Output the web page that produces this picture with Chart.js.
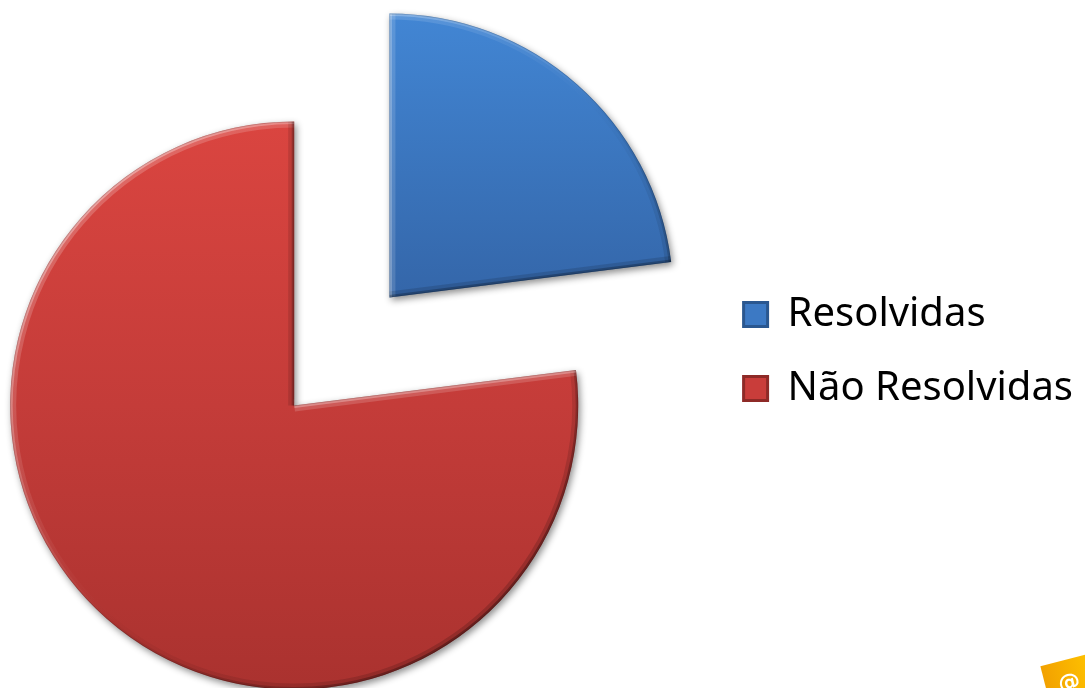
<!DOCTYPE html>
<html lang="pt">
<head>
<meta charset="utf-8">
<title>Resolvidas x Não Resolvidas</title>
<script src="https://cdn.jsdelivr.net/npm/chart.js@4/dist/chart.umd.min.js"></script>
<style>
  html, body { margin: 0; padding: 0; background: #fff; overflow: hidden; }
  #wrap { position: relative; width: 1085px; height: 688px; overflow: hidden; }
  #pizza { position: absolute; left: -26px; top: 0; }
</style>
</head>
<body>
<div id="wrap"><canvas id="pizza" width="1111" height="688"></canvas></div>
<script>
// Gráfico de Pizza - Resolvidas x Não Resolvidas
const categorias = ['Resolvidas', 'Não Resolvidas'];
const valores = [23, 77];

// cores: topo / meio / base de cada fatia, e as da legenda
const coresTopo = ['#4286D4', '#DA4540'];
const coresMeio = ['#3466A9', '#C43C39'];
const coresBase = ['#2D5890', '#AA322F'];
const coresLegenda = ['#3C79C4', '#C93D3A'];
const bordasLegenda = ['#2A5790', '#8E2A27'];

const RAIO = 284;
const AFASTAMENTO = 72;

// luz vindo de cima/esquerda: borda clara ou escura conforme a normal
function tomChanfro(nx, ny, forca) {
    const d = (-nx - ny) * Math.SQRT1_2;
    return d >= 0
        ? 'rgba(255,255,255,' + (0.36 * d * forca).toFixed(3) + ')'
        : 'rgba(0,0,0,' + (0.30 * -d * forca).toFixed(3) + ')';
}

function chanfro(ctx, arc) {
    const { x, y, outerRadius: r, startAngle: a0, endAngle: a1 } = arc;
    ctx.save();
    ctx.beginPath();
    ctx.moveTo(x, y);
    ctx.arc(x, y, r, a0, a1);
    ctx.closePath();
    ctx.clip();
    ctx.lineCap = 'butt';
    [[12, 0.55], [5, 1]].forEach(([largura, forca]) => {
        ctx.lineWidth = largura;
        // borda curva: gradiente cônico em torno do centro
        const cone = ctx.createConicGradient(0, x, y);
        for (let k = 0; k <= 36; k++) {
            const a = k / 36 * Math.PI * 2;
            cone.addColorStop(k / 36, tomChanfro(Math.cos(a), Math.sin(a), forca));
        }
        ctx.beginPath();
        ctx.arc(x, y, r, a0, a1);
        ctx.strokeStyle = cone;
        ctx.stroke();
        // bordas retas
        [[a0, a0 - Math.PI / 2], [a1, a1 + Math.PI / 2]].forEach(([ang, normal]) => {
            ctx.beginPath();
            ctx.moveTo(x, y);
            ctx.lineTo(x + Math.cos(ang) * r, y + Math.sin(ang) * r);
            ctx.strokeStyle = tomChanfro(Math.cos(normal), Math.sin(normal), forca);
            ctx.stroke();
        });
    });
    // contorno fino
    ctx.beginPath();
    ctx.moveTo(x, y);
    ctx.arc(x, y, r, a0, a1);
    ctx.closePath();
    ctx.lineWidth = 1.5;
    ctx.strokeStyle = 'rgba(0,0,0,0.18)';
    ctx.stroke();
    ctx.restore();
}

// fatias afastadas do centro, com sombra e chanfro
const explodir = {
    id: 'explodir',
    beforeDatasetDraw(chart, args) {
        const ctx = chart.ctx;
        args.meta.data.forEach((arc) => {
            const meio = (arc.startAngle + arc.endAngle) / 2;
            ctx.save();
            ctx.translate(Math.cos(meio) * AFASTAMENTO, Math.sin(meio) * AFASTAMENTO);
            ctx.save();
            ctx.shadowColor = 'rgba(0,0,0,0.45)';
            ctx.shadowBlur = 7;
            ctx.shadowOffsetX = 2;
            ctx.shadowOffsetY = 3;
            arc.draw(ctx);
            ctx.restore();
            chanfro(ctx, arc);
            ctx.restore();
        });
        return false;
    }
};

// selo laranja no canto
const selo = {
    id: 'selo',
    afterDraw(chart) {
        const ctx = chart.ctx;
        ctx.save();
        ctx.translate(1098, 685);
        ctx.rotate(-0.25);
        const g = ctx.createLinearGradient(-26, 0, 26, 0);
        g.addColorStop(0, '#F2A100');
        g.addColorStop(1, '#FFC300');
        ctx.fillStyle = g;
        ctx.fillRect(-26, -26, 52, 52);
        ctx.fillStyle = '#fff';
        ctx.font = 'bold 22px "DejaVu Sans"';
        ctx.textAlign = 'center';
        ctx.textBaseline = 'middle';
        ctx.fillText('@', -2, -2);
        ctx.restore();
    }
};

const ctx = document.getElementById('pizza').getContext('2d');
const pizzaChart = new Chart(ctx, {
    type: 'pie',
    data: {
        labels: categorias,
        datasets: [{
            data: valores,
            radius: RAIO,
            borderWidth: 0,
            clip: false,
            backgroundColor: function(c) {
                const area = c.chart.chartArea;
                const i = c.dataIndex;
                if (!area) return coresLegenda[i];
                const cy = (area.top + area.bottom) / 2;
                const g = c.chart.ctx.createLinearGradient(0, cy - RAIO, 0, cy + RAIO);
                g.addColorStop(0, coresTopo[i]);
                g.addColorStop(0.5, coresMeio[i]);
                g.addColorStop(1, coresBase[i]);
                return g;
            }
        }]
    },
    options: {
        responsive: false,
        animation: false,
        layout: {
            padding: { left: 0, top: 15, right: 2, bottom: 0 }
        },
        plugins: {
            legend: {
                position: 'right',
                labels: {
                    boxWidth: 24,
                    boxHeight: 24,
                    padding: 34,
                    color: '#000',
                    font: { family: "'Noto Sans', sans-serif", size: 40 },
                    generateLabels: function(chart) {
                        return chart.data.labels.map((label, i) => ({
                            text: label,
                            fillStyle: coresLegenda[i],
                            strokeStyle: bordasLegenda[i],
                            lineWidth: 3,
                            hidden: false,
                            index: i
                        }));
                    }
                }
            },
            tooltip: { enabled: false }
        }
    },
    plugins: [explodir, selo]
});
</script>
</body>
</html>
